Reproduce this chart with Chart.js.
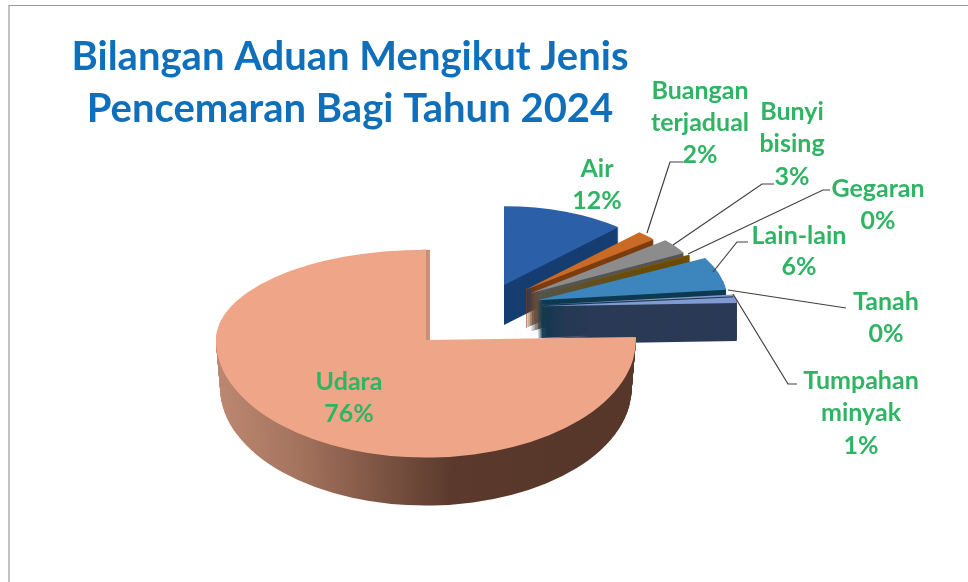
<!DOCTYPE html>
<html><head><meta charset="utf-8">
<style>html,body{margin:0;padding:0;background:#fff}canvas{display:block}</style>
<script src="https://cdn.jsdelivr.net/npm/chart.js@4/dist/chart.umd.min.js"></script>
</head><body><canvas id="c" width="968" height="582"></canvas>
<script>
const titleLines = ['Bilangan Aduan Mengikut Jenis', 'Pencemaran Bagi Tahun 2024'];
const categories = ['Air', 'Buangan terjadual', 'Bunyi bising', 'Gegaran', 'Lain-lain', 'Tanah', 'Tumpahan minyak', 'Udara'];
const values = [12, 2, 3, 0.3, 6, 0.3, 1, 76];

const topColors = ['#2B5FA8', '#C96A25', '#8C8C8C', '#7A5600', '#3D85BD', '#7F9BD1', '#7F9BD1', '#EFA688'];
const wallColors = ['#163E73', '#7D3D10', '#555555', '#6B4C00', '#0E3A50', '#2B3A55', '#2B3A55', null];
const explode = [52, 55, 55, 55, 55, 55, 55, 85];
const sliceRadius = [168, 168, 176, 178, 190, 195, 197, 210];
const sliceDepth = [40, 38, 38, 38, 38, 38, 38, 48];

const pivotY = 340, restPivotY = 337, squash = 0.47, udaraUpper = 0.43, udaraLower = 0.56;
const labelFont = 'bold 25px Lato', titleFont = 'bold 40px Lato';
const labelLayout = [
  {x: 597, y: [169, 201]},
  {x: 700, y: [91, 123, 155], lead: [[647, 233], [670, 162], [683, 162]]},
  {x: 792, y: [112, 144, 177], lead: [[673, 245], [762, 184], [774, 184]]},
  {x: 878, y: [189, 221], lead: [[688, 254], [823, 190], [830, 190]]},
  {x: 799, y: [236, 267], lead: [[713, 272], [737, 242], [748, 242]]},
  {x: 886, y: [302, 334], lead: [[728, 290], [846, 308]]},
  {x: 861, y: [381, 413, 446], lead: [[733, 294], [788, 384], [797, 384]]},
  {x: 349, y: [382, 414]}
];
const total = values.reduce((a, b) => a + b, 0);

function drawWith(arc, color, fn) {
  const base = arc.options;
  const o = Object.create(base);
  o.backgroundColor = color;
  arc.options = o;
  fn();
  arc.options = base;
}
const pie3d = {
  id: 'pie3d',
  beforeDraw(chart) {
    const c = chart.ctx;
    c.save();
    c.fillStyle = '#fff';
    c.fillRect(0, 0, chart.width, chart.height);
    c.strokeStyle = '#9a9a9a';
    c.lineWidth = 1.2;
    c.beginPath();
    c.moveTo(968, 5.5); c.lineTo(9, 5.5); c.lineTo(9, 582);
    c.stroke();
    c.restore();
  },
  beforeDatasetsDraw(chart) {
    const c = chart.ctx;
    const arcs = chart.getDatasetMeta(0).data;
    const wall = c.createLinearGradient(216, 0, 636, 0);
    wall.addColorStop(0, '#CE9680');
    wall.addColorStop(0.33, '#A5745E');
    wall.addColorStop(0.7, '#5B3A2D');
    wall.addColorStop(1, '#56372A');
    arcs.forEach((arc, i) => {
      arc.outerRadius = sliceRadius[i];
      const isUdara = i === arcs.length - 1;
      const mid = (arc.startAngle + arc.endAngle) / 2;
      const shiftX = Math.cos(mid) * explode[i], shiftY = Math.sin(mid) * explode[i];
      const apexX = arc.x + shiftX, apexY = arc.y + shiftY;
      const place = (dy, k) => {
        c.translate(0, (isUdara ? pivotY : restPivotY) + dy);
        c.scale(1, k);
        c.translate(0, -(isUdara ? apexY : pivotY));
        c.translate(shiftX, shiftY);
      };
      const paint = (color, dy, xs) => {
        drawWith(arc, color, () => {
          if (isUdara) {
            [[udaraUpper, -1], [udaraLower, 1]].forEach(([k, side]) => {
              c.save();
              c.beginPath();
              if (side < 0) c.rect(0, 0, 968, pivotY + dy);
              else c.rect(0, pivotY + dy, 968, 582);
              c.clip();
              c.translate(apexX, 0); c.scale(xs, 1); c.translate(-apexX, 0);
              place(dy, k);
              arc.draw(c);
              c.restore();
            });
          } else {
            c.save();
            place(dy, squash);
            arc.draw(c);
            c.restore();
          }
        });
      };
      for (let d = sliceDepth[i]; d >= 1; d--) {
        paint(isUdara ? wall : wallColors[i], d, isUdara ? 1 - 0.02 * d / sliceDepth[i] : 1);
      }
      if (isUdara) {
        c.save();
        c.beginPath();
        c.rect(apexX - 4, 240, 14, 100);
        c.clip();
        c.translate(4, 0);
        paint('#C89077', 0, 1);
        c.restore();
      }
      paint(topColors[i], 0, 1);
    });
    return false;
  },
  afterDraw(chart) {
    const c = chart.ctx;
    c.save();
    c.textAlign = 'center';
    c.textBaseline = 'alphabetic';
    c.font = titleFont;
    c.fillStyle = '#0F6FBA';
    titleLines.forEach((t, i) => c.fillText(t, 350, [70, 122][i]));
    c.strokeStyle = '#404040';
    c.lineWidth = 1.2;
    labelLayout.forEach((l) => {
      if (!l.lead) return;
      c.beginPath();
      l.lead.forEach((p, j) => (j ? c.lineTo(p[0], p[1]) : c.moveTo(p[0], p[1])));
      c.stroke();
    });
    c.font = labelFont;
    c.textBaseline = 'middle';
    c.fillStyle = '#2FB463';
    categories.forEach((name, i) => {
      const lines = name.split(' ').concat(Math.round(values[i] / total * 100) + '%');
      lines.forEach((t, j) => c.fillText(t, labelLayout[i].x, labelLayout[i].y[j]));
    });
    c.restore();
  }
};
new Chart(document.getElementById('c'), {
  type: 'pie',
  data: {labels: categories, datasets: [{data: values, backgroundColor: topColors, borderWidth: 0, clip: false}]},
  options: {
    responsive: false, animation: false, radius: 130,
    layout: {padding: {left: 2, bottom: 26}},
    plugins: {legend: {display: false}, title: {display: false}, tooltip: {enabled: false}}
  },
  plugins: [pie3d]
});
</script></body></html>
